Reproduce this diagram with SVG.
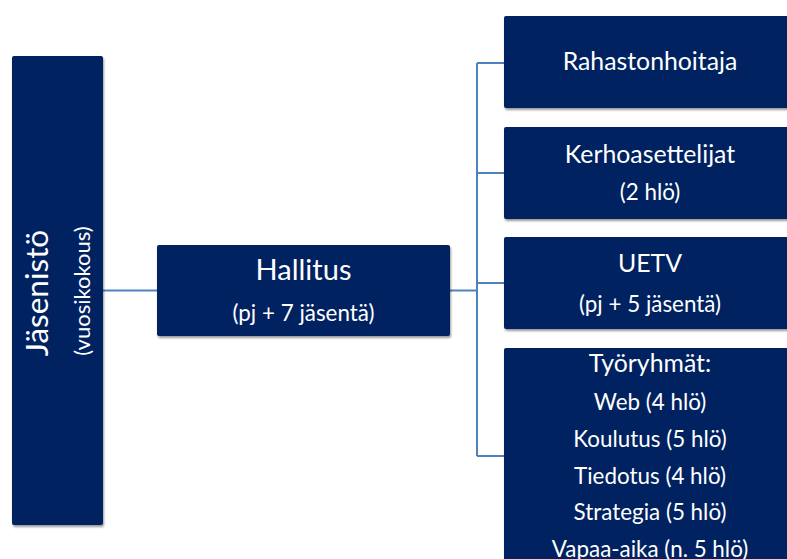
<svg xmlns="http://www.w3.org/2000/svg" width="787" height="559" viewBox="0 0 787 559">
<defs>
<filter id="sh" x="-5%" y="-5%" width="110%" height="115%">
<feDropShadow dx="1" dy="2" stdDeviation="1.2" flood-color="#000" flood-opacity="0.4"/>
</filter>
<style>
.box{fill:#002060;filter:url(#sh)}
.t{fill:#fff;font-family:Lato,"Open Sans",sans-serif;text-anchor:middle}
.h1{font-size:24.8px}
.s{font-size:22.4px}
.c{stroke:#4F81BD;stroke-width:2;fill:none}
</style>
</defs>
<g id="connectors">
<path class="c" d="M103 290.5H157M450 290.5H477M477 63V456M477 63H504M477 173H504M477 283H504M477 456H504"/>
</g>
<g id="jasenisto">
<rect class="box" x="12" y="56" width="91" height="469" rx="2"/>
<text class="t" style="font-size:31.5px" transform="translate(48 293) rotate(-90)">Jäsenistö</text>
<text class="t" style="font-size:22px" transform="translate(90 291) rotate(-90)">(vuosikokous)</text>
</g>
<g id="hallitus">
<rect class="box" x="157" y="245" width="293" height="91" rx="2"/>
<text class="t" style="font-size:29px" x="303.5" y="280">Hallitus</text>
<text class="t s" x="303.5" y="321">(pj + 7 jäsentä)</text>
</g>
<g id="rahastonhoitaja">
<rect class="box" x="504" y="16" width="292" height="92" rx="2"/>
<text class="t h1" x="650" y="70">Rahastonhoitaja</text>
</g>
<g id="kerhoasettelijat">
<rect class="box" x="504" y="127" width="292" height="92" rx="2"/>
<text class="t h1" x="650" y="162.5">Kerhoasettelijat</text>
<text class="t s" x="650" y="199.5">(2 hlö)</text>
</g>
<g id="uetv">
<rect class="box" x="504" y="237" width="292" height="92" rx="2"/>
<text class="t h1" x="650" y="271.5">UETV</text>
<text class="t s" x="650" y="311.5">(pj + 5 jäsentä)</text>
</g>
<g id="tyoryhmat">
<rect class="box" x="504" y="348" width="292" height="216" rx="2"/>
<text class="t h1" x="650" y="371.5">Työryhmät:</text>
<text class="t s" x="650" y="410">Web (4 hlö)</text>
<text class="t s" x="650" y="447">Koulutus (5 hlö)</text>
<text class="t s" x="650" y="483.5">Tiedotus (4 hlö)</text>
<text class="t s" x="650" y="520">Strategia (5 hlö)</text>
<text class="t s" x="650" y="556.5">Vapaa-aika (n. 5 hlö)</text>
</g>
</svg>
